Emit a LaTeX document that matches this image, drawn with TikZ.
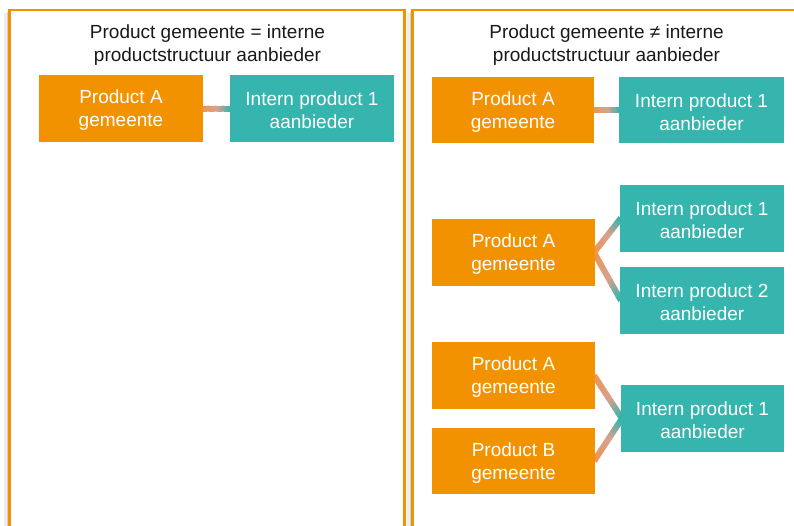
\documentclass[tikz,border=0pt]{standalone}
\usepackage{fontspec}
\setmainfont{Liberation Sans}
\usetikzlibrary{calc}
\definecolor{gmorange}{HTML}{F39200}
\definecolor{gmlo}{HTML}{EE9550}
\definecolor{gmteal}{HTML}{36B5AE}
\definecolor{gmmid}{HTML}{D9A08A}
\definecolor{gmtext}{HTML}{1A1A1A}
\tikzset{
  panel/.style={draw=gmorange, line width=2.4pt, fill=white},
  shadowbox/.style={fill=black!18},
  obox/.style={fill=gmorange, minimum width=164pt, minimum height=67pt, inner sep=0pt},
  tbox/.style={obox, fill=gmteal},
  btxt/.style={text=white, align=center, inner sep=0pt, font=\fontsize{19}{23}\selectfont},
  ttl/.style={text=gmtext, align=center, font=\fontsize{19}{23}\selectfont, inner sep=0pt},
  linkseg/.style={line width=6pt, line cap=butt}
}
\newcommand{\gradlink}[2]{%
  \foreach \i in {0,...,11}{%
    \pgfmathsetmacro{\ta}{\i/12}%
    \pgfmathsetmacro{\tb}{min(1,(\i+1.15)/12)}%
    \ifnum\i<6
      \pgfmathtruncatemacro{\pp}{\i*20}%
      \colorlet{segc}{gmmid!\pp!gmlo}%
    \else
      \pgfmathtruncatemacro{\pp}{(\i-6)*20}%
      \colorlet{segc}{gmteal!\pp!gmmid}%
    \fi
    \draw[linkseg, segc] ($(#1)!\ta!(#2)$) -- ($(#1)!\tb!(#2)$);
  }}
\begin{document}
\begin{tikzpicture}[x=1pt,y=-1pt]
\useasboundingbox (0,0) rectangle (794,525);
\begin{scope}
\clip (0,0) rectangle (794,525);
% shadows
\fill[black!7] (4,13) rectangle (403,540);
\fill[shadowbox] (6.5,12) rectangle (404,540);
\fill[black!7] (407,13) rectangle (800,540);
\fill[shadowbox] (409.5,12) rectangle (800,540);
% panels
\draw[panel] (9.5,10) rectangle (404.5,545);
\draw[panel] (412.5,10) rectangle (805,545);
\end{scope}
% titles
\node[ttl] (t1) at (207.5,45.5) {Product gemeente = interne\\productstructuur aanbieder};
\node[ttl] (t2) at (606.5,45.5) {Product gemeente \char"2260\ interne\\productstructuur aanbieder};
% connectors
\coordinate (l1e) at (202,108.5);
\coordinate (l2w) at (231,108.5);
\gradlink{l1e}{l2w}
\coordinate (r1e) at (593,110);
\coordinate (r1w) at (620,110);
\gradlink{r1e}{r1w}
\coordinate (r2e) at (594,252.5);
\coordinate (r2w1) at (621,218);
\coordinate (r2w2) at (621,300.5);
\gradlink{r2e}{r2w1}
\gradlink{r2e}{r2w2}
\coordinate (r3e1) at (594,375.5);
\coordinate (r3e2) at (594,461);
\coordinate (r3w) at (622,418.5);
\gradlink{r3e1}{r3w}
\gradlink{r3e2}{r3w}
% boxes
\node[obox] (la) at (121,108.5) {};
\node[tbox] (lb) at (312,108.5) {};
\node[obox, minimum width=162pt, minimum height=66pt] (ra) at (513,110) {};
\node[tbox, minimum width=165pt, minimum height=66pt] (rb) at (701.5,110) {};
\node[obox, minimum width=163pt] (ma) at (513.5,252.5) {};
\node[tbox] (mb) at (702,218) {};
\node[tbox] (mc) at (702,300.5) {};
\node[obox, minimum width=163pt] (ba) at (513.5,375.5) {};
\node[obox, minimum width=163pt, minimum height=66pt] (bb) at (513.5,461) {};
\node[tbox, minimum width=163pt] (bc) at (702.5,418.5) {};
% box texts
\node[btxt] (lat) at ($(la)+(0,2)$) {Product A\\gemeente};
\node[btxt] (lbt) at ($(lb)+(0,2)$) {Intern product 1\\aanbieder};
\node[btxt] (rat) at ($(ra)+(0,2)$) {Product A\\gemeente};
\node[btxt] (rbt) at ($(rb)+(0,2)$) {Intern product 1\\aanbieder};
\node[btxt] (mat) at ($(ma)+(0,2)$) {Product A\\gemeente};
\node[btxt] (mbt) at ($(mb)+(0,2)$) {Intern product 1\\aanbieder};
\node[btxt] (mct) at ($(mc)+(0,2)$) {Intern product 2\\aanbieder};
\node[btxt] (bat) at ($(ba)+(0,2)$) {Product A\\gemeente};
\node[btxt] (bbt) at ($(bb)+(0,2)$) {Product B\\gemeente};
\node[btxt] (bct) at ($(bc)+(0,2)$) {Intern product 1\\aanbieder};
\end{tikzpicture}
\end{document}
